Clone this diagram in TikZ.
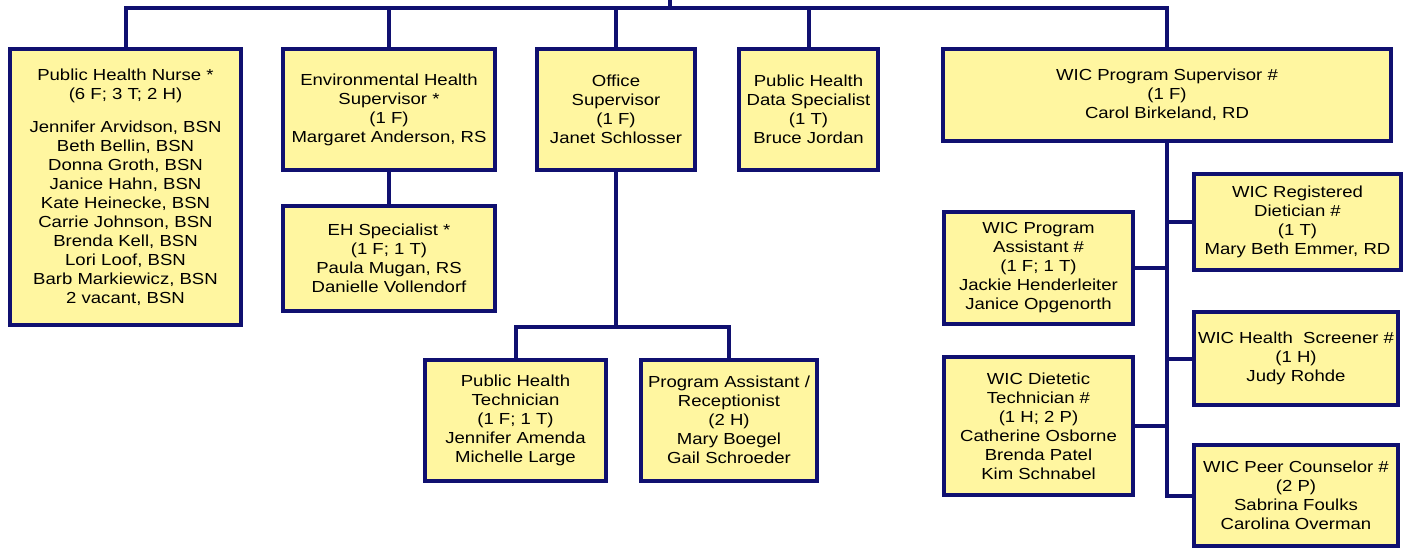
\documentclass[tikz,border=0pt]{standalone}
\usepackage{fontspec}
\setmainfont{Liberation Sans}[FakeStretch=1.16]
\definecolor{navy}{RGB}{16,16,112}
\definecolor{paleyellow}{RGB}{255,246,160}
\tikzset{
  post/.style={draw=navy, line width=4pt, fill=paleyellow, align=center,
    inner sep=0pt, font=\fontsize{16}{19}\selectfont},
  link/.style={draw=navy, line width=4pt}
}

\begin{document}
\begin{tikzpicture}[x=1pt,y=-1pt]
      \useasboundingbox (0,0) rectangle (1405,551);
      % top row
      \node[post, minimum width=231pt, minimum height=276pt] (phn) at (125.5,187)
        {Public Health Nurse *\\(6 F; 3 T; 2 H)\\[14pt]
         Jennifer Arvidson, BSN\\Beth Bellin, BSN\\Donna Groth, BSN\\Janice Hahn, BSN\\
         Kate Heinecke, BSN\\Carrie Johnson, BSN\\Brenda Kell, BSN\\Lori Loof, BSN\\
         Barb Markiewicz, BSN\\2 vacant, BSN};
      \node[post, minimum width=212pt, minimum height=121pt] (ehsup) at (389,109.5)
        {Environmental Health\\Supervisor *\\(1 F)\\Margaret Anderson, RS};
      \node[post, minimum width=158pt, minimum height=121pt] (office) at (616,109.5)
        {Office\\Supervisor\\(1 F)\\Janet Schlosser};
      \node[post, minimum width=139pt, minimum height=121pt] (data) at (808.5,109.5)
        {Public Health\\Data Specialist\\(1 T)\\Bruce Jordan};
      \node[post, minimum width=448pt, minimum height=92pt] (wicsup) at (1167,95)
        {WIC Program Supervisor \#\\(1 F)\\Carol Birkeland, RD};
      % second level
      \node[post, minimum width=212pt, minimum height=105pt] (ehspec) at (389,258)
        {EH Specialist *\\(1 F; 1 T)\\Paula Mugan, RS\\Danielle Vollendorf};
      \node[post, minimum width=181pt, minimum height=121pt] (phtech) at (515.5,420)
        {Public Health\\Technician\\(1 F; 1 T)\\Jennifer Amenda\\Michelle Large};
      \node[post, minimum width=176pt, minimum height=121pt] (recep) at (729,420)
        {Program Assistant /\\Receptionist\\(2 H)\\Mary Boegel\\Gail Schroeder};
      % WIC staff
      \node[post, minimum width=189pt, minimum height=112pt] (wicasst) at (1038.5,268)
        {WIC Program\\Assistant \#\\(1 F; 1 T)\\Jackie Henderleiter\\Janice Opgenorth};
      \node[post, minimum width=189pt, minimum height=138pt] (wictech) at (1038.5,426)
        {WIC Dietetic\\Technician \#\\(1 H; 2 P)\\Catherine Osborne\\Brenda Patel\\Kim Schnabel};
      \node[post, minimum width=207pt, minimum height=96pt] (wicrd) at (1297.5,222)
        {WIC Registered\\Dietician \#\\(1 T)\\Mary Beth Emmer, RD};
      \node[post, minimum width=204pt, minimum height=93pt] (wicscr) at (1296,358.5)
        {WIC Health\ \ Screener \#\\(1 H)\\Judy Rohde};
      \node[post, minimum width=204pt, minimum height=101pt] (wicpeer) at (1296,495.5)
        {WIC Peer Counselor \#\\(2 P)\\Sabrina Foulks\\Carolina Overman};
      % connectors
      \coordinate (top) at (670,-4);
      \coordinate (bar) at (670,8);
      \coordinate (split) at (616,327);
      \draw[link] (top) -- (bar);
      \draw[link] (phn.north) |- (bar) -| (wicsup.north);
      \draw[link] (ehsup.north) -- (ehsup.north |- bar);
      \draw[link] (office.north) -- (office.north |- bar);
      \draw[link] (data.north) -- (data.north |- bar);
      \draw[link] (ehsup.south) -- (ehspec.north);
      \draw[link] (office.south) -- (split);
      \draw[link] (phtech.north) |- (split) -| (recep.north);
      \draw[link] (wicsup.south) |- (wicpeer.west);
      \draw[link] (wicrd.west) -- (wicrd.west -| wicsup.south);
      \draw[link] (wicscr.west) -- (wicscr.west -| wicsup.south);
      \draw[link] (wicasst.east) -- (wicasst.east -| wicsup.south);
      \draw[link] (wictech.east) -- (wictech.east -| wicsup.south);
    \end{tikzpicture}
\end{document}
